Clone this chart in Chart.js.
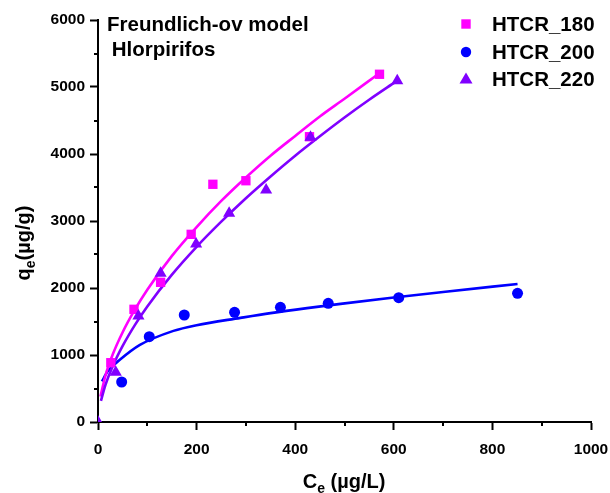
<!DOCTYPE html>
<html>
<head>
<meta charset="utf-8">
<script src="https://cdn.jsdelivr.net/npm/chart.js@4/dist/chart.umd.min.js"></script>
<style>
html,body{margin:0;padding:0;background:#fff;}
#wrap{position:relative;width:610px;height:493px;}
</style>
</head>
<body>
<div id="wrap"><canvas id="c" width="610" height="493"></canvas></div>
<script>
// ---------- data ----------
const seriesNames = ['HTCR_180', 'HTCR_200', 'HTCR_220'];

// measured points
const ce180 = [26, 73, 127, 189, 233, 300, 429, 571];
const qe180 = [885, 1682, 2085, 2801, 3548, 3601, 4258, 5190];

const ce200 = [48, 104, 175, 277, 370, 467, 610, 851];
const qe200 = [597, 1273, 1597, 1637, 1712, 1772, 1855, 1921];

const ce220 = [0, 36, 82, 127, 199, 266, 341, 431, 607];
const qe220 = [0, 742, 1582, 2219, 2657, 3115, 3463, 4249, 5094];

// fitted Freundlich curves
const fitCe180 = [5, 15, 30, 50, 75, 100, 150, 200, 250, 300, 350, 400, 450, 500, 566];
const fitQe180 = [380, 690, 1010, 1340, 1680, 1975, 2480, 2910, 3300, 3650, 3975, 4270, 4560, 4825, 5180];

const fitCe200 = [8, 20, 43, 85, 153, 200, 289, 350, 424, 492, 600, 700, 851];
const fitQe200 = [606, 760, 920, 1150, 1360, 1445, 1554, 1625, 1700, 1763, 1858, 1940, 2060];

const fitCe220 = [6, 15, 30, 50, 75, 100, 150, 200, 250, 300, 350, 400, 450, 500, 550, 604];
const fitQe220 = [316, 550, 835, 1135, 1450, 1725, 2200, 2615, 2990, 3340, 3665, 3975, 4265, 4545, 4810, 5080];

// axis ticks
const xTicks = [0, 200, 400, 600, 800, 1000];
const xMinorTicks = [100, 300, 500, 700, 900];
const yTicks = [0, 1000, 2000, 3000, 4000, 5000, 6000];
const yMinorTicks = [500, 1500, 2500, 3500, 4500, 5500];

// texts
const titleLine1 = 'Freundlich-ov model';
const titleLine2 = ' Hlorpirifos';

// ---------- helpers ----------
const FONT = '"Liberation Sans", Arial, Helvetica, sans-serif';
const C180 = '#FF00FF', C200 = '#0000FF', C220 = '#8000FF';
const pts = (xs, ys) => xs.map((x, i) => ({x: x, y: ys[i]}));

const extras = {
  id: 'extras',
  afterDraw(chart) {
    const ctx = chart.ctx;
    const xs = chart.scales.x, ys = chart.scales.y;
    const ca = chart.chartArea;
    ctx.save();
    // minor ticks
    ctx.strokeStyle = '#000';
    ctx.lineWidth = 2;
    xMinorTicks.forEach(v => {
      const px = Math.round(xs.getPixelForValue(v));
      ctx.beginPath(); ctx.moveTo(px, ca.bottom); ctx.lineTo(px, ca.bottom + 4); ctx.stroke();
    });
    yMinorTicks.forEach(v => {
      const py = Math.round(ys.getPixelForValue(v));
      ctx.beginPath(); ctx.moveTo(ca.left, py); ctx.lineTo(ca.left - 4, py); ctx.stroke();
    });

    ctx.fillStyle = '#000';
    ctx.textBaseline = 'alphabetic';
    // title text
    ctx.font = 'bold 20.5px ' + FONT;
    ctx.textAlign = 'left';
    ctx.fillText(titleLine1, 107, 31);
    ctx.fillText(titleLine2, 106, 56);

    // x axis title: C_e (µg/L)
    const big = 'bold 20px ' + FONT, small = 'bold 14px ' + FONT;
    ctx.font = big; const wC = ctx.measureText('C').width;
    ctx.font = small; const wE = ctx.measureText('e').width;
    ctx.font = big; const wR = ctx.measureText(' (\u00b5g/L)').width;
    let x0 = 344 - (wC + wE + wR) / 2;
    const by = 488;
    ctx.font = big; ctx.fillText('C', x0, by);
    ctx.font = small; ctx.fillText('e', x0 + wC, by + 5);
    ctx.font = big; ctx.fillText(' (\u00b5g/L)', x0 + wC + wE, by);

    // y axis title: q_e(µg/g), rotated
    ctx.save();
    ctx.translate(30, 243);
    ctx.rotate(-Math.PI / 2);
    ctx.font = big; const wq = ctx.measureText('q').width;
    ctx.font = small; const we2 = ctx.measureText('e').width;
    ctx.font = big; const wr2 = ctx.measureText('(\u00b5g/g)').width;
    let s0 = -(wq + we2 + wr2) / 2;
    ctx.font = big; ctx.fillText('q', s0, 0);
    ctx.font = small; ctx.fillText('e', s0 + wq, 5);
    ctx.font = big; ctx.fillText('(\u00b5g/g)', s0 + wq + we2, 0);
    ctx.restore();

    // legend
    const rows = [
      {name: seriesNames[0], color: C180, shape: 'rect', y: 24},
      {name: seriesNames[1], color: C200, shape: 'circle', y: 52},
      {name: seriesNames[2], color: C220, shape: 'triangle', y: 79}
    ];
    const mx = 466;
    rows.forEach(r => {
      ctx.fillStyle = r.color;
      ctx.beginPath();
      if (r.shape === 'rect') {
        ctx.rect(mx - 4.7, r.y - 4.7, 9.4, 9.4);
      } else if (r.shape === 'circle') {
        ctx.arc(mx, r.y, 5.2, 0, Math.PI * 2);
      } else {
        ctx.moveTo(mx, r.y - 6.5);
        ctx.lineTo(mx + 6.5, r.y + 4.5);
        ctx.lineTo(mx - 6.5, r.y + 4.5);
        ctx.closePath();
      }
      ctx.fill();
      ctx.fillStyle = '#000';
      ctx.font = 'bold 20.5px ' + FONT;
      ctx.textAlign = 'left';
      ctx.fillText(r.name, 492, r.y + 7);
    });
    ctx.restore();
  }
};

const tickFont = {family: FONT, size: 15.5, weight: 'bold'};
const plain = v => String(v);

new Chart(document.getElementById('c'), {
  type: 'scatter',
  data: {
    datasets: [
      {label: seriesNames[2], data: pts(ce220, qe220), pointStyle: 'triangle', pointRadius: 7,
       backgroundColor: C220, borderColor: C220, borderWidth: 0, showLine: false, order: 1},
      {label: seriesNames[1], data: pts(ce200, qe200), pointStyle: 'circle', pointRadius: 5.5,
       backgroundColor: C200, borderColor: C200, borderWidth: 0, showLine: false, order: 2},
      {label: seriesNames[0], data: pts(ce180, qe180), pointStyle: 'rect', pointRadius: 6.6,
       backgroundColor: C180, borderColor: C180, borderWidth: 0, showLine: false, order: 3},
      {label: 'fit 220', data: pts(fitCe220, fitQe220), showLine: true, pointRadius: 0,
       borderColor: C220, borderWidth: 2.6, cubicInterpolationMode: 'monotone', fill: false, order: 4},
      {label: 'fit 180', data: pts(fitCe180, fitQe180), showLine: true, pointRadius: 0,
       borderColor: C180, borderWidth: 2.6, cubicInterpolationMode: 'monotone', fill: false, order: 5},
      {label: 'fit 200', data: pts(fitCe200, fitQe200), showLine: true, pointRadius: 0,
       borderColor: C200, borderWidth: 2.6, cubicInterpolationMode: 'monotone', fill: false, order: 6}
    ]
  },
  options: {
    responsive: false,
    animation: false,
    devicePixelRatio: 1,
    layout: {padding: {left: 0, top: 20, right: 19, bottom: 0}},
    plugins: {legend: {display: false}, tooltip: {enabled: false}, title: {display: false}},
    scales: {
      x: {
        type: 'linear', min: 0, max: 1000,
        afterBuildTicks: s => { s.ticks = xTicks.map(v => ({value: v})); },
        afterFit: s => { s.height = 71; s.paddingRight = 0; s.paddingLeft = 0; },
        ticks: {color: '#000', font: tickFont, padding: 10, maxRotation: 0, autoSkip: false, callback: plain},
        grid: {display: true, drawOnChartArea: false, drawTicks: true, tickLength: 8, tickColor: '#000', tickWidth: 2},
        border: {display: true, color: '#000', width: 2}
      },
      y: {
        type: 'linear', min: 0, max: 6000,
        afterBuildTicks: s => { s.ticks = yTicks.map(v => ({value: v})); },
        afterFit: s => { s.width = 98; s.paddingTop = 0; s.paddingBottom = 0; },
        ticks: {color: '#000', font: tickFont, padding: 5, autoSkip: false, callback: plain},
        grid: {display: true, drawOnChartArea: false, drawTicks: true, tickLength: 8, tickColor: '#000', tickWidth: 2},
        border: {display: true, color: '#000', width: 2}
      }
    }
  },
  plugins: [extras]
});
</script>
</body>
</html>
